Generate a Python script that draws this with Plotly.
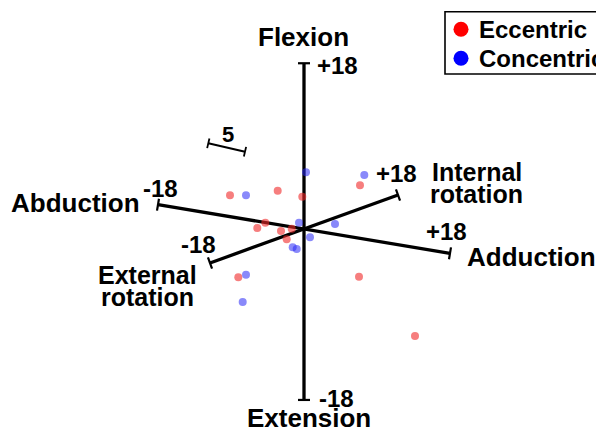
import plotly.graph_objects as go

# ---- data (projected plane coordinates, 1 unit = 1 px, origin at axes centre, y up) ----
ecc_x = [56, -74, -26.3, -1.7, -38.7, -46.7, -23, -12.3, -17.3, -65.7, 55, 111]
ecc_y = [43.7, 33.7, 38.3, 32.3, 6.3, 1, -2, 0.3, -10.3, -48.3, -47.7, -107]
con_x = [2, 60.3, -58, -5, 31, 6, -11.3, -7.3, -58, -61.3]
con_y = [56.7, 54, 33.7, 6.3, 5, -8.3, -18.3, -20, -45.7, -73]

series_names = ["Eccentric", "Concentric"]
series_colors = ["red", "blue"]
point_colors = ["rgba(240,40,40,0.6)", "rgba(40,40,245,0.55)"]

axis_max = 18
axis_tick_labels = ["-18", "+18"]
# projected direction of one unit along each anatomical axis
flex_dir = (0.0, 168.35 / 18)
flex_origin = (0.0, -2.6)
add_dir = (146.0 / 18, -24.3 / 18)
int_dir = (94.0 / 18, 34.0 / 18)
scale_len = 5

FONT = "Liberation Sans, Arial, Helvetica, sans-serif"

fig = go.Figure()


def seg(p0, p1, width=3.3):
    fig.add_trace(go.Scatter(x=[p0[0], p1[0]], y=[p0[1], p1[1]], mode="lines",
                             line=dict(color="black", width=width),
                             showlegend=False, hoverinfo="skip"))


def axis(d, origin=(0.0, 0.0), cap=6):
    n = (d[0] ** 2 + d[1] ** 2) ** 0.5
    px, py = -d[1] / n * cap, d[0] / n * cap
    a = (origin[0] - axis_max * d[0], origin[1] - axis_max * d[1])
    b = (origin[0] + axis_max * d[0], origin[1] + axis_max * d[1])
    seg(a, b)
    for e in (a, b):
        seg((e[0] - px, e[1] - py), (e[0] + px, e[1] + py), width=2.2)


axis(flex_dir, flex_origin)
axis(add_dir)
axis(int_dir)

# scale bar (5 units)
sb0 = (-95.7, 85.7)
sd = (36.7 / scale_len, -8.4 / scale_len)
sb1 = (sb0[0] + scale_len * sd[0], sb0[1] + scale_len * sd[1])
seg(sb0, sb1, width=2.2)
n = (sd[0] ** 2 + sd[1] ** 2) ** 0.5
cx, cy = -sd[1] / n * 5, sd[0] / n * 5
for e in (sb0, sb1):
    seg((e[0] - cx, e[1] - cy), (e[0] + cx, e[1] + cy), width=1.8)

for xs, ys, c in ((ecc_x, ecc_y, point_colors[0]), (con_x, con_y, point_colors[1])):
    fig.add_trace(go.Scatter(x=xs, y=ys, mode="markers",
                             marker=dict(color=c, size=8),
                             showlegend=False, hoverinfo="skip"))


def label(t, x, y, size, xanchor="center"):
    fig.add_annotation(x=x, y=y, text=t, showarrow=False,
                       font=dict(family=FONT, size=size, color="black", weight="bold"),
                       xanchor=xanchor, yanchor="middle")


NAME = 26
NUM = 24
ROT = 25
label("Flexion", -1, 192, NAME)
label(axis_tick_labels[1], 33.5, 164, NUM)
label(axis_tick_labels[0], 32.5, -169, NUM)
label("Extension", 5, -189, NAME)
label(axis_tick_labels[0], -144, 41, NUM)
label("Abduction", -229, 26, NAME)
label(axis_tick_labels[1], 142.7, -2.7, NUM)
label("Adduction", 227.7, -27.7, NAME)
label(axis_tick_labels[0], -106, -15, NUM)
label("External", -157, -46, ROT)
label("rotation", -157, -67.7, ROT)
label(axis_tick_labels[1], 92, 56, NUM)
label("Internal", 172.5, 57, ROT)
label("rotation", 172.5, 35, ROT)
label(str(scale_len), -75.7, 95, 22)

# legend (box, keys, names)
fig.add_shape(type="rect", x0=141, x1=330, y0=155, y1=217.3, xref="x", yref="y",
              line=dict(color="black", width=1.6), fillcolor="white", layer="below")
leg_y = [199.7, 170.7]
fig.add_trace(go.Scatter(x=[157, 157], y=leg_y, mode="markers",
                         marker=dict(color=series_colors, size=15),
                         showlegend=False, hoverinfo="skip"))
for name, y in zip(series_names, leg_y):
    label(name, 173, y, 24, xanchor="left")

fig.update_layout(
    width=596, height=424,
    margin=dict(l=0, r=0, t=0, b=0),
    paper_bgcolor="white", plot_bgcolor="white",
    xaxis=dict(range=[-296, 300], visible=False, fixedrange=True),
    yaxis=dict(range=[-203, 221], visible=False, fixedrange=True),
    showlegend=False,
)

fig.write_html("out.html")
